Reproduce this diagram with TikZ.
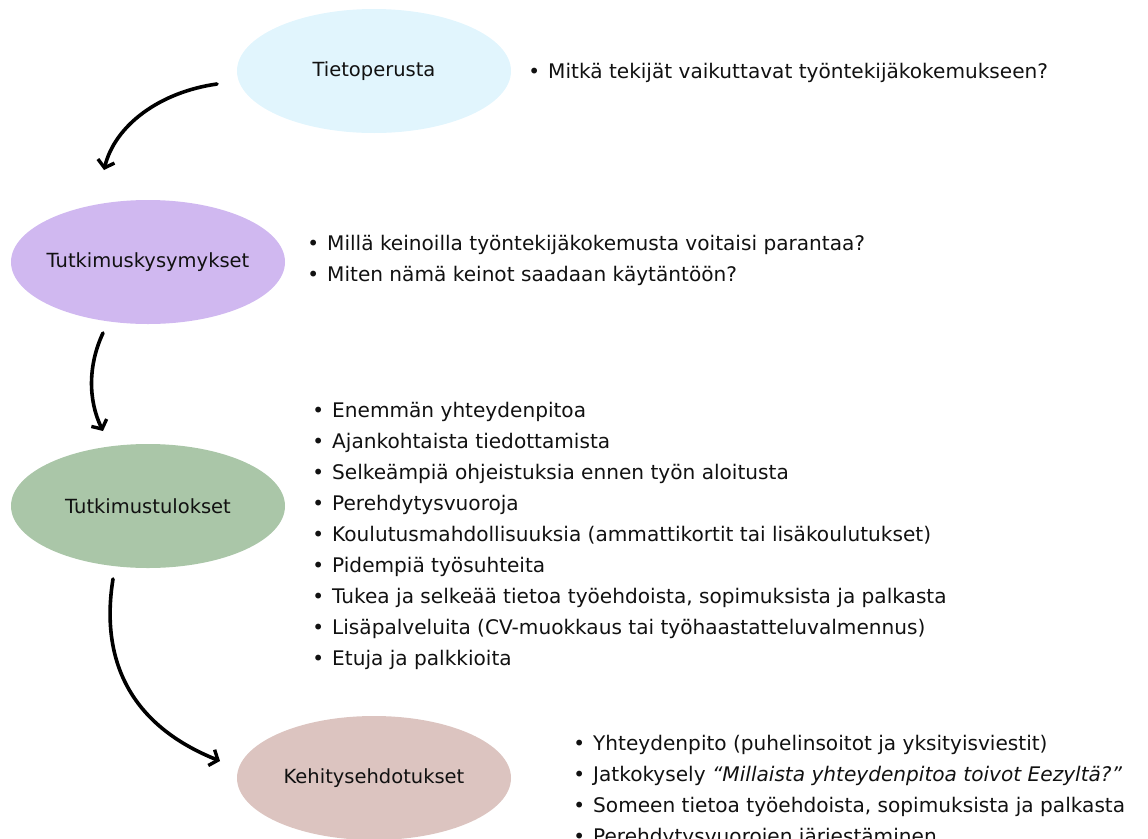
\documentclass[tikz,border=0pt]{standalone}
\usepackage{fontspec}
\setmainfont{DejaVu Sans}
\usetikzlibrary{arrows.meta,shapes.geometric}
\definecolor{cblue}{HTML}{E1F5FD}
\definecolor{cviolet}{HTML}{D0B8F0}
\definecolor{cgreen}{HTML}{AAC6A8}
\definecolor{cpink}{HTML}{DCC4C0}
\definecolor{ctext}{HTML}{111111}
\newcommand{\bul}{\llap{\raisebox{0pt}{\fontsize{20}{20}\selectfont•}\hspace{8pt}}}
\begin{document}
\begin{tikzpicture}[x=1pt,y=-1pt,
  stage/.style={ellipse, minimum width=274pt, minimum height=124pt, inner ysep=0pt, inner xsep=-15pt,
    font=\fontsize{19.5}{22}\selectfont, text=ctext},
  item/.style={anchor=base west, inner sep=0pt, font=\fontsize{20.1}{22}\selectfont, text=ctext},
  flow/.style={line width=3.6pt, line cap=round, -{Straight Barb[length=7pt,width=17pt,line width=3.4pt]}}]
\useasboundingbox (0,0) rectangle (1148,838);

\node[stage, fill=cblue] (s1) at (374,71) {Tietoperusta};
\node[stage, fill=cviolet] (s2) at (148,262) {Tutkimuskysymykset};
\node[stage, fill=cgreen] (s3) at (148,506) {Tutkimustulokset};
\node[stage, fill=cpink] (s4) at (374,778) {Kehitysehdotukset};

\node[item] (a1) at (548,78) {\bul Mitkä tekijät vaikuttavat työntekijäkokemukseen?};

\node[item] (b1) at (327,250) {\bul Millä keinoilla työntekijäkokemusta voitaisi parantaa?};
\node[item] (b2) at (327,281) {\bul Miten nämä keinot saadaan käytäntöön?};

\node[item] (c1) at (332,417) {\bul Enemmän yhteydenpitoa};
\node[item] (c2) at (332,448) {\bul Ajankohtaista tiedottamista};
\node[item] (c3) at (332,479) {\bul Selkeämpiä ohjeistuksia ennen työn aloitusta};
\node[item] (c4) at (332,510) {\bul Perehdytysvuoroja};
\node[item] (c5) at (332,541) {\bul Koulutusmahdollisuuksia (ammattikortit tai lisäkoulutukset)};
\node[item] (c6) at (332,572) {\bul Pidempiä työsuhteita};
\node[item] (c7) at (332,603) {\bul Tukea ja selkeää tietoa työehdoista, sopimuksista ja palkasta};
\node[item] (c8) at (332,634) {\bul Lisäpalveluita (CV-muokkaus tai työhaastatteluvalmennus)};
\node[item] (c9) at (332,665) {\bul Etuja ja palkkioita};

\node[item] (d1) at (593,750) {\bul Yhteydenpito (puhelinsoitot ja yksityisviestit)};
\node[item] (d2) at (593,781) {\bul Jatkokysely \textit{“Millaista yhteydenpitoa toivot Eezyltä?”}};
\node[item] (d3) at (593,812) {\bul Someen tietoa työehdoista, sopimuksista ja palkasta};
\node[item] (d4) at (593,843) {\bul Perehdytysvuorojen järjestäminen};

\coordinate (f1s) at (217,84);
\coordinate (f1e) at (104,170);
\coordinate (f2s) at (103,333);
\coordinate (f2e) at (103,431);
\coordinate (f3s) at (113,579);
\coordinate (f3e) at (220,761);

\draw[flow] (f1s) .. controls (160,92) and (115,125) .. (f1e);
\draw[flow] (f2s) .. controls (88,365) and (88,400) .. (f2e);
\draw[flow] (f3s) .. controls (100,660) and (130,725) .. (f3e);
\end{tikzpicture}
\end{document}
